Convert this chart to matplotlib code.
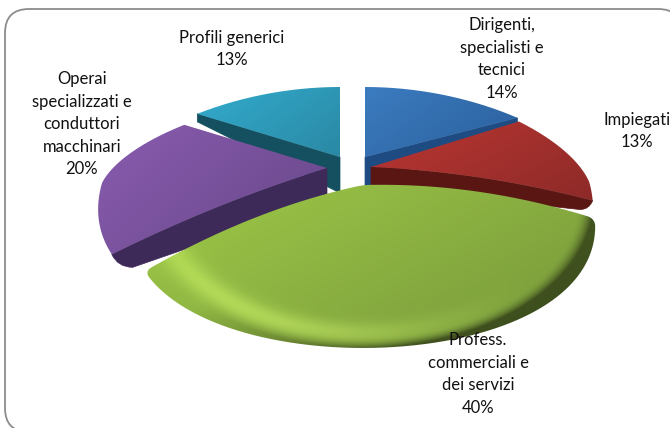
import numpy as np
import matplotlib
matplotlib.use('Agg')
import matplotlib.pyplot as plt
from matplotlib.patches import PathPatch, FancyBboxPatch
from matplotlib.path import Path

# clockwise from 12 o'clock
names = ['Dirigenti,\nspecialisti e\ntecnici', 'Impiegati', 'Profess.\ncommerciali e\ndei servizi',
         'Operai\nspecializzati e\nconduttori\nmacchinari', 'Profili generici']
shares = [14, 13, 40, 20, 13]

top_light = ['#3b7cc0', '#bb3632', '#9fca48', '#8a5cb0', '#33acce']
top_dark = ['#2b5f9c', '#8c2a28', '#76963a', '#664787', '#2a88a4']
side_cols = ['#1e4b82', '#5a1613', '#5a7029', '#3e2a58', '#14505f']

# where each wedge's tip ends up once exploded
tips = [(365, 157), (371, 167), (363, 185), (327, 168), (340, 157)]
side_drop = [30, 20, 0, 32, 36]
side_dx = [0, -9, 0, 15, 0]
side_dy = [7, 9, 0, 13, 8]
bulges = [0, 6, 10, 5, 0]
rim_scale = [1, 0.97, 1.015, 1, 1]
back_ry = [85, 95, 85, 85, 85]
draw_order = [4, 0, 3, 1, 2]

plt.rcParams['font.family'] = ['Lato', 'DejaVu Sans']
fig = plt.figure(figsize=(6.7, 4.28), dpi=100)
ax = fig.add_axes([0, 0, 1, 1])
ax.set_xlim(0, 670)
ax.set_ylim(428, 0)
ax.axis('off')

frame = FancyBboxPatch((5, 9), 677, 423, boxstyle='round,pad=0,rounding_size=24',
                       fc='white', ec='#8c8c8c', lw=1.3)
ax.add_patch(frame)


def rim(a, tip, sc, ry_back):
    # perspective look: back half is flat, front half is deep and wider
    rx = sc * 225 * (1 - 0.19 * np.cos(a))
    ry = np.where(np.cos(a) > 0, ry_back, 148)
    return tip[0] + rx * np.sin(a), tip[1] + 15 - ry * np.cos(a)


def edge(p, q, bulge=0.0, n=30):
    t = np.linspace(0, 1, n)
    x = p[0] + (q[0] - p[0]) * t
    y = p[1] + (q[1] - p[1]) * t - bulge * 4 * t * (1 - t)
    return np.column_stack([x, y])


def soften(poly, win=11, step=1.5):
    # resample the outline evenly, then round it off with a moving average
    closed = np.vstack([poly, poly[0]])
    seg = np.hypot(*np.diff(closed, axis=0).T)
    s = np.concatenate([[0], np.cumsum(seg)])
    keep = np.concatenate([[True], seg > 0])
    s2 = np.arange(0, s[-1], step)
    x = np.interp(s2, s[keep], closed[keep, 0])
    y = np.interp(s2, s[keep], closed[keep, 1])
    k = np.ones(win) / win
    x = np.convolve(np.r_[x[-win:], x, x[:win]], k, 'same')[win:-win]
    y = np.convolve(np.r_[y[-win:], y, y[:win]], k, 'same')[win:-win]
    return np.column_stack([x, y])


def hex_rgb(c):
    return np.array(matplotlib.colors.to_rgb(c))


def shade(poly, c0, c1, zorder, tip, green=False):
    xmin, ymin = np.floor(poly.min(axis=0)) - 1
    xmax, ymax = np.ceil(poly.max(axis=0)) + 1
    xx, yy = np.meshgrid(np.arange(xmin, xmax + 1), np.arange(ymin, ymax + 1))
    g = (xx - xmin) / max(xmax - xmin, 1) * 0.6 + (yy - ymin) / max(ymax - ymin, 1) * 0.4
    g = np.clip(g, 0, 1)[..., None]
    img = hex_rgb(c0) * (1 - g) + hex_rgb(c1) * g
    if green:
        nx = (xx - tip[0]) / 230
        dy = yy - tip[1] - 15
        ny = dy / np.where(dy > 0, 148, 85)
        r = np.hypot(nx, ny)
        a = np.arctan2(nx, -ny)
        # pale band low on the left, dark rim low on the right
        lit = np.exp(-((r - 0.9) / 0.07) ** 2) * np.clip(np.cos(a + 2.6), 0, 1) ** 2
        dark = np.clip((r - 0.93) / 0.07, 0, 1) ** 2 * np.clip(np.cos(a - 2.0) + 0.35, 0, 1)
        img = img + (lit * 0.14)[..., None] * np.array([1, 1, 0.6])
        img = img * (1 - 0.5 * dark)[..., None]
    im = ax.imshow(np.clip(img, 0, 1), extent=(xmin - .5, xmax + .5, ymax + .5, ymin - .5),
                   zorder=zorder, interpolation='bilinear', aspect='auto')
    clip = PathPatch(Path(np.vstack([poly, poly[0]])), fc='none', ec='none', transform=ax.transData)
    ax.add_patch(clip)
    im.set_clip_path(clip)


bounds = np.cumsum([0] + shares) / sum(shares) * 2 * np.pi
for z, i in enumerate(draw_order):
    a0, a1 = bounds[i], bounds[i + 1]
    tip = tips[i]
    zo = 2 + z
    aa = np.linspace(a0, a1, 120)
    x, y = rim(aa, tip, rim_scale[i], back_ry[i])
    arc = np.column_stack([x, y])
    # only edges that point to the viewer are bowed
    left = edge(tip, arc[0], bulges[i] if np.cos(a0) < 0 else 0)
    right = edge(arc[-1], tip, bulges[i] if np.cos(a1) < 0 else 0)
    top = np.vstack([left, arc[1:-1], right[:-1]])
    if i == 2:
        top = soften(top)
    # cut face shows on the edge turned to the front
    if side_drop[i] > 0:
        cut = left if i in (3, 4) else right[::-1]
        low_tip = (tip[0], tip[1] + side_drop[i])
        ox, oy = cut[-1]
        ctrl = (ox + side_dx[i] * 0.4, oy + side_dy[i])
        end = (ox + side_dx[i] * 1.4, oy + side_dy[i])
        verts = [tuple(p) for p in cut] + [ctrl, end, low_tip, tuple(cut[0])]
        codes = [Path.MOVETO] + [Path.LINETO] * (len(cut) - 1) + [Path.CURVE3, Path.CURVE3, Path.LINETO, Path.CLOSEPOLY]
        ax.add_patch(PathPatch(Path(verts, codes), fc=side_cols[i], ec=side_cols[i], lw=0.5, zorder=zo))
    shade(top, top_light[i], top_dark[i], zo + 0.5, tip, green=(i == 2))

label_pos = [(502, 59), (637, 131), (478, 374), (82, 124), (232, 49)]
for i in range(len(shares)):
    ax.text(label_pos[i][0], label_pos[i][1], '%s\n%d%%' % (names[i], shares[i]), ha='center', va='center',
            fontsize=12, color='#111111', linespacing=1.5, zorder=20)

ax.set_xlim(0, 670)
ax.set_ylim(428, 0)
fig.savefig('out.png', dpi=100)
